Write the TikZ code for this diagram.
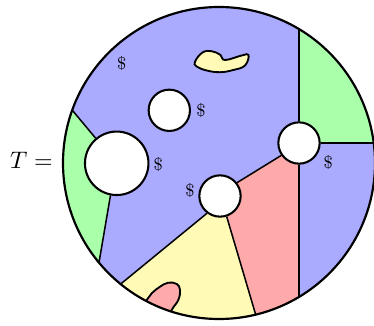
\documentclass[tikz,border=0pt]{standalone}
\usetikzlibrary{calc,backgrounds}
\definecolor{regblue}{RGB}{170,170,255}
\definecolor{reggreen}{RGB}{170,255,170}
\definecolor{regred}{RGB}{255,170,170}
\definecolor{regyellow}{RGB}{255,250,182}
\begin{document}
\begin{tikzpicture}[x=0.46pt,y=-0.46pt,
  hole/.style={circle,draw,fill=white,line width=0.95pt,inner sep=0pt},
  border/.style={line width=1pt},
  seam/.style={line width=0.7pt},
  blob/.style={line width=0.85pt},
  dollar/.style={font=\footnotesize,inner sep=0pt}]
\useasboundingbox (0,0) rectangle (374,326);
\coordinate (O) at (219,163);
\coordinate (cTop) at ($(O)+(-59.15:156)$);
\coordinate (cBot) at ($(O)+(59.15:156)$);
\coordinate (cRight) at ($(O)+(-7.37:156)$);
\coordinate (c4) at ($(O)+(76.4:156)$);
\coordinate (c5) at ($(O)+(129.1:156)$);
\coordinate (c6) at ($(O)+(199.8:156)$);
\coordinate (c7) at ($(O)+(140.3:156)$);
% holes
\node[hole,minimum size=29.2pt] (h2) at (116.7,163.3) {};
\node[hole,minimum size=19pt] (h1) at (169.3,110.3) {};
\node[hole,minimum size=19pt] (h3) at (220,196) {};
\node[hole,minimum size=19pt] (h4) at (299,143) {};
\begin{pgfonlayer}{background}
  \begin{scope}
    \clip (O) circle (156);
    \fill[regblue] (O) circle (156);
    \fill[reggreen] (h4.center) -- (299,-30) -- (420,-30) -- (420,143) -- cycle;
    \fill[regred] (h4.center) -- (h4.215) -- (h3.38) -- (h3.center) -- (h3.288)
      -- ($(h3.288)!1.5!(c4)$) -- (299,400) -- cycle;
    \fill[regyellow] (h3.center) -- (h3.288) -- ($(h3.288)!1.5!(c4)$)
      -- ($(O)+(100:300)$) -- ($(h3.233)!1.5!(c5)$) -- (h3.233) -- cycle;
    \fill[reggreen] (h2.center) -- (h2.130) -- ($(h2.130)!1.5!(c6)$)
      -- ($(O)+(180:300)$) -- ($(h2.259)!1.5!(c7)$) -- (h2.259) -- cycle;
    % blobs
    \filldraw[blob,fill=regyellow] plot[smooth cycle,tension=0.7] coordinates
      {(195,61.7) (202.5,52.5) (211.7,51.2) (220.5,55) (225,60) (241.7,55.5)
       (248.5,55) (245,65.5) (233.3,70) (220,72.2) (206.7,70.5) (196.7,66.5)};
    \filldraw[blob,fill=regred] plot[smooth,tension=0.7] coordinates
      {(140,308) (146.7,300) (151.7,293.3) (160,286.7) (168.3,282.7) (176.7,284)
       (180,290) (178.3,300) (171.7,310) (169,320)} -- cycle;
  \end{scope}
  \draw[seam] (h4) -- (cTop);
  \draw[seam] (h4) -- (cBot);
  \draw[seam] (h4) -- (cRight);
  \draw[seam] (h4.215) -- (h3.38);
  \draw[seam] (h3.288) -- (c4);
  \draw[seam] (h3.233) -- (c5);
  \draw[seam] (h2.130) -- (c6);
  \draw[seam] (h2.259) -- (c7);
\end{pgfonlayer}
\draw[border] (O) circle (156);
% labels
\node[dollar] (d1) at (121.7,63.3) {\$};
\node[dollar] (d2) at (201,110) {\$};
\node[dollar] (d3) at (158.3,164) {\$};
\node[dollar] (d4) at (190,190) {\$};
\node[dollar] (d5) at (328.3,162.7) {\$};
\node[anchor=base,inner sep=0pt,scale=1.1] (T) at (31.5,168.3) {$T =$};
\end{tikzpicture}
\end{document}
